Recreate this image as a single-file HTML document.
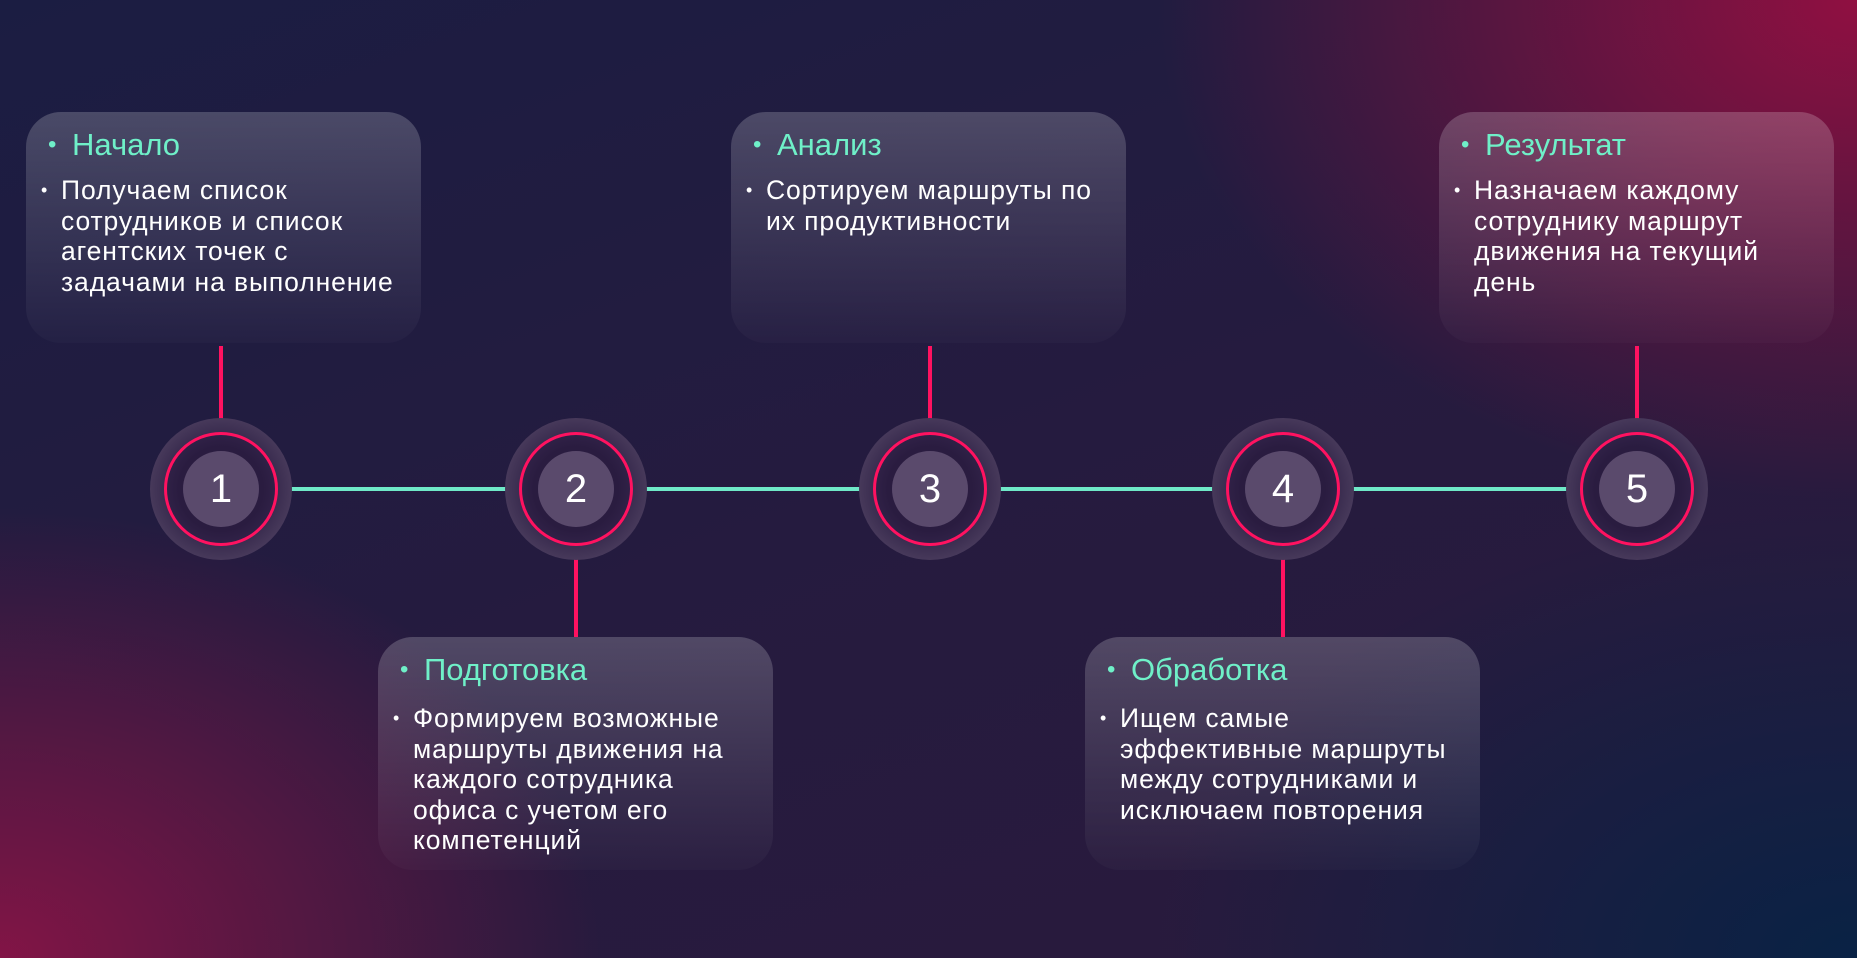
<!DOCTYPE html>
<html><head><meta charset="utf-8"><style>
html,body{margin:0;padding:0}
body{width:1857px;height:958px;position:relative;overflow:hidden;font-family:"Liberation Sans",sans-serif;
background:
radial-gradient(ellipse 700px 500px at 1857px 0px, rgba(150,15,65,0.95), rgba(150,15,65,0) 100%),
radial-gradient(ellipse 600px 450px at 0px 958px, rgba(135,20,70,0.95), rgba(135,20,70,0) 100%),
radial-gradient(ellipse 700px 450px at 1857px 958px, rgba(5,35,70,0.9), rgba(5,35,70,0) 100%),
linear-gradient(160deg,#1b1d42 0%,#251b3f 50%,#2a1a3c 100%);}
.box{position:absolute;width:395px;border-radius:35px;background:linear-gradient(180deg,rgba(255,255,255,0.2),rgba(255,255,255,0.02));}
.t{position:absolute;left:22px;color:#6ff0c8;font-size:31px;}
.t span{display:inline-block;width:24px;font-size:24px;vertical-align:3px}
.b{position:absolute;left:15px;right:18px;color:#fff;font-size:26.5px;letter-spacing:0.9px;line-height:30.5px;padding-left:20px;}
.b:before{content:"•";position:absolute;left:0;font-size:18px}
.vl{position:absolute;width:4px;background:#ff1260;}
.hl{position:absolute;height:4px;top:487px;background:#6fe9c8;}
.c{position:absolute;width:142px;height:142px;border-radius:50%;top:418px;
background:radial-gradient(circle,#2a1d42 0,#2a1d42 38%,#615270 100%);}
.r{position:absolute;left:14px;top:14px;width:108px;height:108px;border:3.5px solid #ff1260;border-radius:50%;
background:radial-gradient(circle,#2a1c40 55%,#3a2a52 100%);}
.i{position:absolute;left:33px;top:33px;width:76px;height:76px;border-radius:50%;background:#5a4a6c;color:#fff;font-size:40px;line-height:76px;text-align:center;}
</style></head><body>
<div class="hl" style="left:290px;width:220px"></div>
<div class="hl" style="left:645px;width:220px"></div>
<div class="hl" style="left:999px;width:220px"></div>
<div class="hl" style="left:1352px;width:220px"></div>

<div class="vl" style="left:219px;top:346px;height:86px"></div>
<div class="vl" style="left:928px;top:346px;height:86px"></div>
<div class="vl" style="left:1635px;top:346px;height:86px"></div>
<div class="vl" style="left:574px;top:545px;height:92px"></div>
<div class="vl" style="left:1281px;top:545px;height:92px"></div>

<div class="c" style="left:150px"><div class="r"></div><div class="i">1</div></div>
<div class="c" style="left:505px"><div class="r"></div><div class="i">2</div></div>
<div class="c" style="left:859px"><div class="r"></div><div class="i">3</div></div>
<div class="c" style="left:1212px"><div class="r"></div><div class="i">4</div></div>
<div class="c" style="left:1566px"><div class="r"></div><div class="i">5</div></div>

<div class="box" style="left:26px;top:112px;height:231px"><div class="t" style="top:15px"><span>•</span>Начало</div><div class="b" style="top:63px">Получаем список сотрудников и список агентских точек с задачами на выполнение</div></div>
<div class="box" style="left:731px;top:112px;height:231px"><div class="t" style="top:15px"><span>•</span>Анализ</div><div class="b" style="top:63px">Сортируем маршруты по их продуктивности</div></div>
<div class="box" style="left:1439px;top:112px;height:231px"><div class="t" style="top:15px"><span>•</span>Результат</div><div class="b" style="top:63px">Назначаем каждому сотруднику маршрут движения на текущий день</div></div>
<div class="box" style="left:378px;top:637px;height:233px"><div class="t" style="top:15px"><span>•</span>Подготовка</div><div class="b" style="top:66px">Формируем возможные маршруты движения на каждого сотрудника офиса с учетом его компетенций</div></div>
<div class="box" style="left:1085px;top:637px;height:233px"><div class="t" style="top:15px"><span>•</span>Обработка</div><div class="b" style="top:66px">Ищем самые эффективные маршруты между сотрудниками и исключаем повторения</div></div>
</body></html>
